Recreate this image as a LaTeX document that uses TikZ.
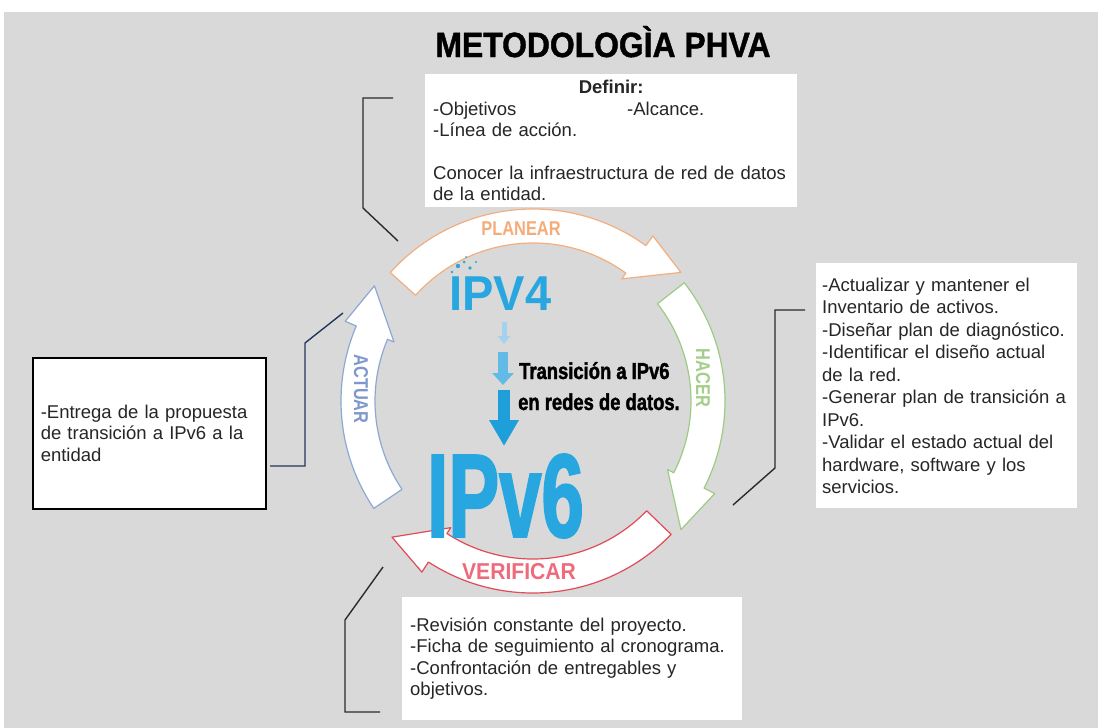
\documentclass[tikz,border=0pt]{standalone}
\usepackage{fontspec}
\usepackage{graphicx}
\setmainfont{Liberation Sans}
\newfontfamily\titlefont{Liberation Sans}[FakeStretch=0.91,FakeBold=1.2]
\newfontfamily\condfont{Liberation Sans}[FakeStretch=0.82]
\newfontfamily\heavycond{Liberation Sans}[FakeStretch=0.8,FakeBold=1.6]
\newfontfamily\narrowfont{Liberation Sans}[FakeStretch=0.64,FakeBold=1.5]
\usetikzlibrary{arrows.meta}
\definecolor{bg}{HTML}{D9D9D9}
\definecolor{txt}{HTML}{262626}
\definecolor{lnk}{HTML}{2B2B2B}
\definecolor{navy}{HTML}{24365F}
\definecolor{ipcyan}{HTML}{27A6DF}
\definecolor{arA}{HTML}{A3D2EE}
\definecolor{arB}{HTML}{62BBE6}
\definecolor{arC}{HTML}{1E9FDA}
\definecolor{planC}{HTML}{F2AE7E}
\definecolor{planT}{HTML}{F3AC7A}
\definecolor{hacC}{HTML}{9DCB83}
\definecolor{hacT}{HTML}{A3CF8A}
\definecolor{verC}{HTML}{E24A58}
\definecolor{verT}{HTML}{EF6B7C}
\definecolor{actC}{HTML}{8EA8D4}
\definecolor{actT}{HTML}{7E98CC}
\newcommand{\cyclearrow}[4]{%
  \filldraw[fill=white, draw=#1, line width=1.2pt, line join=round]
  (#2:192) arc[start angle=#2, end angle=#3, radius=192]
  -- (#3:204) -- (#4:196) -- (#3:151) -- (#3:158)
  arc[start angle=#3, end angle=#2, radius=158] -- cycle;}
\begin{document}
\begin{tikzpicture}[x=1pt,y=-1pt,
  infobox/.style={fill=white, anchor=north west, inner xsep=8pt, inner ysep=0pt,
    align=left, text=txt, font=\fontsize{18.5}{21.5}\selectfont},
  link/.style={draw=lnk, line width=1.4pt},
  arclabel/.style={font=\condfont\bfseries\fontsize{20}{20}\selectfont, inner sep=0pt}]
\useasboundingbox (0,0) rectangle (1098,728);
\fill[white] (0,0) rectangle (1098,728);
\fill[bg] (4,12) rectangle (1098,728);

% title
\node[anchor=base, inner sep=0pt, font=\titlefont\bfseries\fontsize{35}{38}\selectfont, text=black]
  (title) at (603,57) {METODOLOGÌA PHVA};

% boxes
\node[infobox, minimum width=372, minimum height=133, text width=356] (planbox) at (425,74)
  {\makebox[356pt][c]{\bfseries Definir:}\\
   \makebox[194pt][l]{-Objetivos}-Alcance.\\
   -Línea de acción.\\[21pt]
   Conocer la infraestructura de red de datos\\
   de la entidad.};
\node[infobox, inner xsep=6pt, minimum width=261, minimum height=245, text width=249,
  font=\fontsize{18.5}{22.5}\selectfont] (hacbox) at (816,263)
  {-Actualizar y mantener el\\
   Inventario de activos.\\
   -Diseñar plan de diagnóstico.\\
   -Identificar el diseño actual\\
   de la red.\\
   -Generar plan de transición a\\
   IPv6.\\
   -Validar el estado actual del\\
   hardware, software y los\\
   servicios.};
\node[infobox, draw=black, line width=1.5pt, minimum width=233, minimum height=151, text width=217]
  (actbox) at (32,357)
  {-Entrega de la propuesta\\
   de transición a IPv6 a la\\
   entidad};
\node[infobox, minimum width=340, minimum height=123, text width=324] (verbox) at (402,597)
  {-Revisión constante del proyecto.\\
   -Ficha de seguimiento al cronograma.\\
   -Confrontación de entregables y\\
   objetivos.};

% connectors
\coordinate (p1) at (393,98);  \coordinate (p2) at (398,241);
\draw[link] (p1) -- (363,98) -- (363,208) -- (p2);
\coordinate (h1) at (805,310); \coordinate (h2) at (733,505);
\draw[link] (h1) -- (775,310) -- (775,468) -- (h2);
\coordinate (v1) at (383,567); \coordinate (v2) at (380,712);
\draw[link] (v1) -- (345,620) -- (345,712) -- (v2);
\coordinate (a1) at (270,466); \coordinate (a2) at (343,313);
\draw[link, draw=navy] (a1) -- (305,466) -- (305,343) -- (a2);

% cycle
\begin{scope}[shift={(533,401)}, yscale=-1]
  \cyclearrow{planC}{138}{54}{41}
  \cyclearrow{hacC}{38}{-27}{-41}
  \cyclearrow{verC}{-44}{-123}{-136}
  \cyclearrow{actC}{-146}{-203}{-216}
\end{scope}
\node[arclabel, text=planT] (planl) at (521,229) {PLANEAR};
\node[arclabel, text=verT, font=\condfont\bfseries\fontsize{23}{23}\selectfont] (verl) at (519,572)
  {\scalebox{1.12}[1]{VERIFICAR}};
\node[arclabel, text=hacT, rotate=-90] (hacl) at (703,378) {HACER};
\node[arclabel, text=actT, rotate=-90] (actl) at (361,389) {ACTUAR};

% center content
\node[anchor=base west, inner sep=0pt, text=ipcyan,
  font=\bfseries\fontsize{49}{49}\selectfont] (ipv4) at (449,310) {\scalebox{0.96}[1]{IPV4}};
\foreach \x/\y/\r in {458/266/2.2, 464/262/1.5, 470/268/1.8, 452/272/1.4, 476/262/1.2, 466/257/1}
  \fill[ipcyan] (\x,\y) circle[radius=\r];
\coordinate (s1a) at (504,322); \coordinate (s1b) at (504,344);
\coordinate (s2a) at (503,352); \coordinate (s2b) at (503,385);
\coordinate (s3a) at (504,390); \coordinate (s3b) at (504,446);
\draw[line width=5pt, draw=arA, -{Triangle[width=12pt,length=8pt]}] (s1a) -- (s1b);
\draw[line width=10pt, draw=arB, -{Triangle[width=21pt,length=12pt]}] (s2a) -- (s2b);
\draw[line width=12pt, draw=arC, -{Triangle[width=28pt,length=26pt]}] (s3a) -- (s3b);
\node[anchor=base west, inner sep=0pt, text=black,
  font=\heavycond\bfseries\fontsize{23}{23}\selectfont] (trans1) at (519,379) {Transición a IPv6};
\node[anchor=base west, inner sep=0pt, text=black,
  font=\heavycond\bfseries\fontsize{23}{23}\selectfont] (trans2) at (518,410) {en redes de datos.};
\node[anchor=base west, inner sep=0pt, text=ipcyan,
  font=\narrowfont\bfseries\fontsize{119}{119}\selectfont] (ipv6) at (427,537) {IPv6};
\end{tikzpicture}
\end{document}
